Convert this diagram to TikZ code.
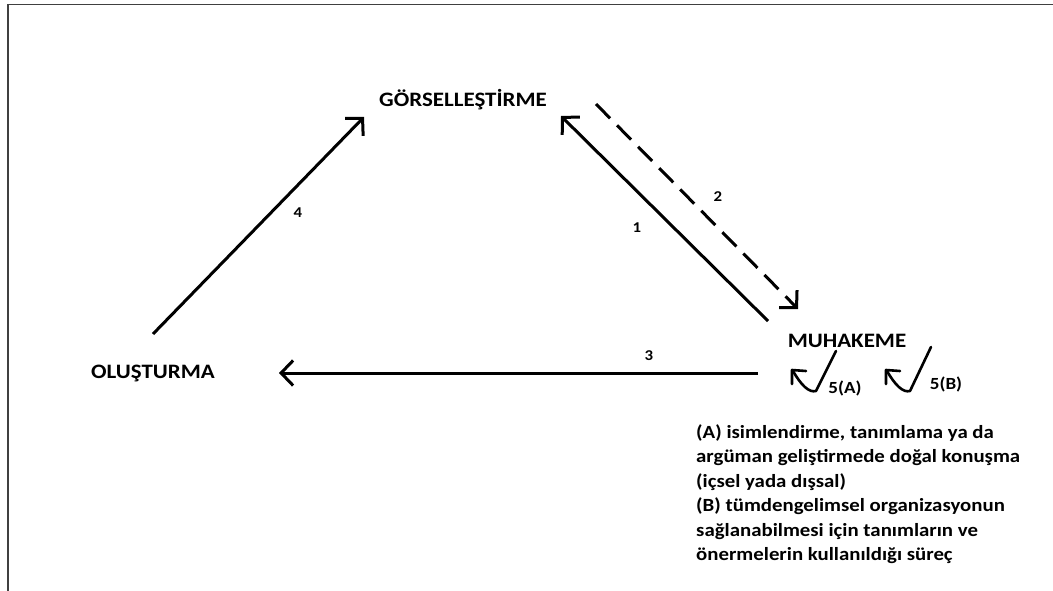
\documentclass[tikz,border=0pt]{standalone}
\usepackage{fontspec}
\setmainfont{Carlito}[FakeStretch=1.12]
\usetikzlibrary{arrows.meta}
\begin{document}
\begin{tikzpicture}[x=1pt,y=-1pt,
  lbl/.style={font=\fontsize{20.5}{24}\selectfont\bfseries, inner sep=0pt},
  num/.style={font=\fontsize{15}{18}\selectfont\bfseries, inner sep=0pt},
  con/.style={line width=3pt, -{Straight Barb[length=12pt,width=25pt,line width=3pt]}},
  sym/.style={line width=2.6pt, line cap=round, line join=round},
  frame/.style={line width=1.6pt, draw=black!75}
]
\useasboundingbox (0,0) rectangle (1053,591);
\draw[frame] (8,591) -- (8,4.5) -- (1053,4.5);

\node[lbl] (g) at (463,100) {GÖRSELLEŞTİRME};
\node[lbl] (o) at (153,373) {OLUŞTURMA};
\node[lbl] (m) at (847,341) {MUHAKEME};

\coordinate (a4s) at (153,334);
\coordinate (a4e) at (364,117);
\coordinate (a1s) at (768,321);
\coordinate (a1e) at (561,116);
\coordinate (a2s) at (596,104);
\coordinate (a2e) at (798,309);
\coordinate (a3s) at (758,373);
\coordinate (a3e) at (279,373);

\draw[con] (a4s) -- (a4e);
\draw[con] (a1s) -- (a1e);
\draw[con, dash pattern=on 20pt off 10pt] (a2s) -- (a2e);
\draw[con] (a3s) -- (a3e);

\node[num] (n4) at (298,213) {4};
\node[num] (n1) at (637,228) {1};
\node[num] (n2) at (718,197) {2};
\node[num] (n3) at (649,356) {3};

% check-arrow symbols
\draw[sym] (792,384) -- (792,370) -- (806,371);
\draw[sym] (793,371) .. controls (801,385) and (809,393) .. (816,391) -- (836,351);
\draw[sym] (886,384) -- (886,370) -- (900,371);
\draw[sym] (887,371) .. controls (895,385) and (903,393) .. (910,391) -- (931,347);
\node[num, font=\fontsize{17}{20}\selectfont\bfseries] (a5) at (845,388) {5(A)};
\node[num, font=\fontsize{17}{20}\selectfont\bfseries] (b5) at (946,384) {5(B)};

\node[anchor=north west, inner sep=0pt, align=left,
  font=\fontsize{18.6}{24.5}\selectfont\bfseries] (txt) at (696,424) {%
(A) isimlendirme, tanımlama ya da\\
argüman geliştirmede doğal konuşma\\
(içsel yada dışsal)\\
(B) tümdengelimsel organizasyonun\\
sağlanabilmesi için tanımların ve\\
önermelerin kullanıldığı süreç};
\end{tikzpicture}
\end{document}
